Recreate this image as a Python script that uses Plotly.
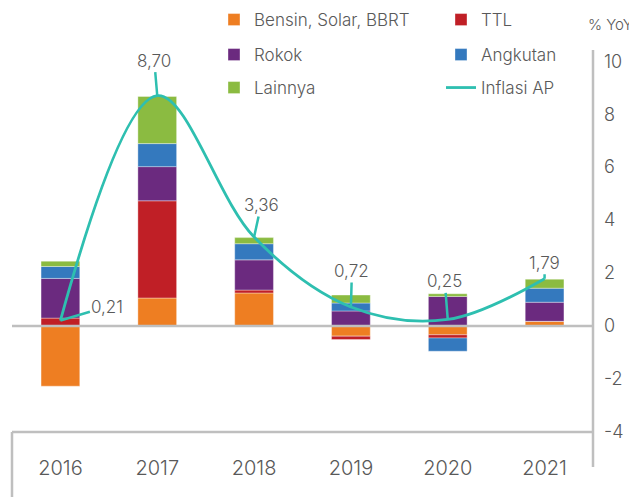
import plotly.graph_objects as go

years = ["2016", "2017", "2018", "2019", "2020", "2021"]
bensin = [-2.27, 1.06, 1.25, -0.38, -0.33, 0.18]
ttl = [0.30, 3.67, 0.11, -0.13, -0.12, 0.0]
rokok = [1.50, 1.29, 1.14, 0.57, 1.12, 0.72]
angkutan = [0.45, 0.87, 0.61, 0.30, -0.50, 0.53]
lainnya = [0.20, 1.78, 0.23, 0.30, 0.10, 0.34]
inflasi_ap = [0.21, 8.70, 3.36, 0.72, 0.25, 1.79]
y_ticks = [-4, -2, 0, 2, 4, 6, 8, 10]
y_ticktext = ["-4", "-2", "0", "2", "4", "6", "8", "10"]

names = ["Bensin, Solar, BBRT", "TTL", "Rokok", "Angkutan", "Lainnya"]
series = [bensin, ttl, rokok, angkutan, lainnya]
colors = ["#EE7E22", "#C01F26", "#6B2A7F", "#3479BE", "#8BBB41"]
legend_ids = ["legend", "legend2", "legend3", "legend4", "legend5"]
TEAL = "#2EBFB0"
GREY = "#595959"
AX = "#BFBFBF"
FONT = "Inter"
FW = 300

fig = go.Figure()
for n, s, c, lg in zip(names, series, colors, legend_ids):
    fig.add_trace(go.Bar(x=years, y=s, name=n, marker=dict(color=c, line=dict(color="rgba(255,255,255,0.6)", width=0.6)),
                         legend=lg))
fig.add_trace(go.Scatter(x=years, y=inflasi_ap, name="Inflasi AP", mode="lines",
                         line=dict(color=TEAL, width=2.8, shape="spline", smoothing=1.0),
                         legend="legend6"))

# page offset of the plotly div (default body margin)
OFF = 8
PW, PH = 637, 497
W, H = PW - OFF, PH - OFF
# plot area geometry in page px
L, R, T, B = 12, 593, 48, 432
pw, ph = R - L, B - T

def px_x(px):
    return (px - L) / pw

def px_y(py):
    return (B - py) / ph

leg_pos = [(214, 20), (441, 20), (214, 55), (441, 55), (214, 88), (441, 88)]
legs = {}
for i, (lx, ly) in enumerate(leg_pos):
    key = "legend" if i == 0 else f"legend{i+1}"
    legs[key] = dict(x=px_x(lx), y=px_y(ly), xanchor="left", yanchor="middle",
                     bgcolor="rgba(0,0,0,0)", font=dict(family=FONT, size=17, color=GREY, weight=FW),
                     orientation="h", visible=True)

# labels with leader lines
offsets = [(47, -14), (-3, -35), (7, -32), (1, -36), (-3, -38), (0, -16)]
annotations = []
for i, (v, (ax, ay)) in enumerate(zip(inflasi_ap, offsets)):
    annotations.append(dict(x=i, y=v, xref="x", yref="y", text=f"{v:.2f}".replace(".", ","),
                            showarrow=True, arrowhead=0, arrowwidth=2.5, arrowcolor=TEAL,
                            ax=ax, ay=ay, standoff=0, font=dict(family=FONT, size=17, color=GREY, weight=FW)))
annotations.append(dict(x=px_x(586), y=px_y(24), xref="paper", yref="paper", xanchor="left", yanchor="middle",
                        text="% YoY", showarrow=False, font=dict(family=FONT, size=15, color=GREY, weight=FW)))

shapes = [
    dict(type="line", xref="paper", yref="y", x0=0, x1=1, y0=0, y1=0, line=dict(color=AX, width=2.5), layer="above"),
    dict(type="line", xref="paper", yref="paper", x0=1, x1=1, y0=px_y(467), y1=px_y(50), line=dict(color=AX, width=2.5)),
    dict(type="line", xref="paper", yref="paper", x0=0, x1=0, y0=px_y(497), y1=0, line=dict(color=AX, width=2.5)),
    dict(type="line", xref="paper", yref="paper", x0=0, x1=1, y0=0, y1=0, line=dict(color=AX, width=2.5)),
]

fig.update_layout(
    width=W, height=H,
    margin=dict(l=L - OFF, r=PW - R, t=T - OFF, b=PH - B, pad=0, autoexpand=False),
    barmode="relative", bargap=0.6,
    plot_bgcolor="white", paper_bgcolor="white",
    font=dict(family=FONT, color=GREY, weight=FW),
    annotations=annotations, shapes=shapes,
    showlegend=True,
    xaxis=dict(type="category", range=[-0.5, 5.5], showgrid=False, zeroline=False, showline=False,
               ticks="", ticklabelstandoff=22, tickfont=dict(family=FONT, size=20, color=GREY, weight=FW), fixedrange=True),
    yaxis=dict(side="right", range=[-4, 10.5], tickvals=y_ticks, ticktext=y_ticktext, showgrid=False,
               zeroline=False, showline=False, ticks="", ticklabelstandoff=10,
               tickfont=dict(family=FONT, size=18, color=GREY, weight=FW)),
    **legs,
)

fig.write_html("out.html")
